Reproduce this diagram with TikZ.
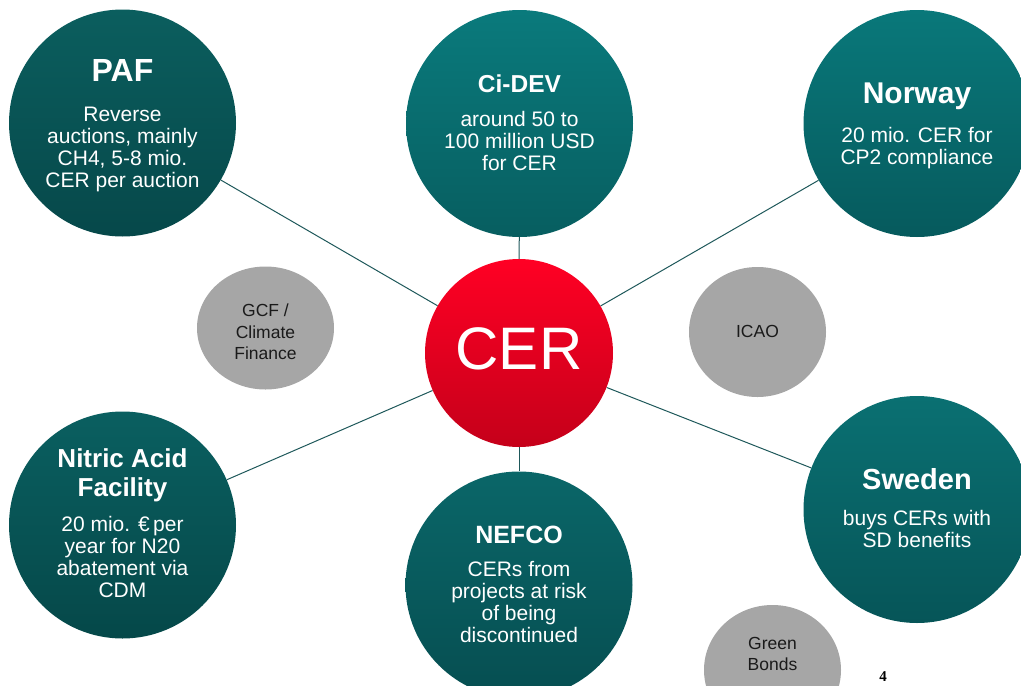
\documentclass[tikz,border=0pt]{standalone}
\usepackage{fontspec}
\setmainfont{Liberation Sans}
\newfontfamily\pagenumfont{Liberation Serif}
\usetikzlibrary{backgrounds,shapes.geometric}
\definecolor{linkc}{RGB}{30,88,90}
\definecolor{bubgray}{RGB}{166,166,166}
\definecolor{bubtext}{RGB}{26,26,26}
\definecolor{pafT}{RGB}{11,94,94}
\definecolor{pafB}{RGB}{6,72,74}
\definecolor{cidT}{RGB}{10,122,124}
\definecolor{cidB}{RGB}{7,94,96}
\definecolor{norT}{RGB}{9,120,122}
\definecolor{norB}{RGB}{6,90,93}
\definecolor{nitT}{RGB}{10,95,96}
\definecolor{nitB}{RGB}{5,72,73}
\definecolor{sweT}{RGB}{10,112,114}
\definecolor{sweB}{RGB}{6,85,88}
\definecolor{nefT}{RGB}{10,102,104}
\definecolor{nefB}{RGB}{6,78,81}
\definecolor{cerT}{RGB}{255,0,36}
\definecolor{cerB}{RGB}{197,0,26}
\begin{document}
\begin{tikzpicture}[x=1pt,y=-1pt,
  big/.style={circle,minimum size=227pt,inner sep=0pt},
  txt/.style={text=white,align=center,inner sep=0pt,font=\fontsize{21}{22}\selectfont},
  graybub/.style={ellipse,fill=bubgray,inner sep=0pt,minimum width=137pt},
  gtxt/.style={text=bubtext,align=center,inner sep=0pt,font=\fontsize{17.5}{21.5}\selectfont},
  link/.style={draw=linkc,line width=1pt}]
\useasboundingbox (0,0) rectangle (1021,686);
\clip (0,0) rectangle (1021,686);

% big circles
\node[big,top color=pafT,bottom color=pafB] (paf) at (122.5,123) {};
\node[txt] (paft) at (122.5,126) {{\fontsize{32}{32}\selectfont\bfseries PAF}\\[18pt]Reverse\\auctions, mainly\\CH4, 5-8 mio.\\CER per auction};

\node[big,top color=cidT,bottom color=cidB] (cid) at (519.5,123.5) {};
\node[txt] (cidt) at (519.5,123) {{\fontsize{24.5}{24.5}\selectfont\bfseries Ci-DEV}\\[12pt]around 50 to\\100 million USD\\for CER};

\node[big,top color=norT,bottom color=norB] (nor) at (917,123.5) {};
\node[txt] (nort) at (917,125.5) {{\fontsize{30}{30}\selectfont\bfseries Norway}\\[17pt]20 mio. CER for\\CP2 compliance};

\node[big,top color=nitT,bottom color=nitB] (nit) at (122.5,525) {};
\node[txt] (nitt) at (122.5,523) {{\fontsize{26}{26}\selectfont\bfseries Nitric Acid}\\[7pt]{\fontsize{26}{26}\selectfont\bfseries Facility}\\[13pt]20 mio. €\,per\\year for N20\\abatement via\\CDM};

\node[big,top color=sweT,bottom color=sweB] (swe) at (917,509.5) {};
\node[txt] (swet) at (917,508) {{\fontsize{29}{29}\selectfont\bfseries Sweden}\\[14pt]buys CERs with\\SD benefits};

\node[big,top color=nefT,bottom color=nefB] (nef) at (519,585) {};
\node[txt] (neft) at (519,584.5) {{\fontsize{25}{25}\selectfont\bfseries NEFCO}\\[11pt]CERs from\\projects at risk\\of being\\discontinued};

% centre
\node[circle,minimum size=188pt,inner sep=0pt,top color=cerT,bottom color=cerB] (cer) at (519,353) {};
\node[text=white,inner sep=0pt,font=\fontsize{60}{60}\selectfont] (cert) at (519,349) {CER};

% gray bubbles
\node[graybub,minimum height=123pt] (gcf) at (265.5,328) {};
\node[gtxt] (gcft) at (265.5,332) {GCF /\\Climate\\Finance};
\node[graybub,minimum height=130pt] (icao) at (757.5,332) {};
\node[gtxt] (icaot) at (757.5,331.5) {ICAO};
\node[graybub,minimum height=130pt] (gb) at (772.5,670) {};
\node[gtxt] (gbt) at (772.5,654) {Green\\Bonds};

% page number
\node[inner sep=0pt,font=\pagenumfont\bfseries\fontsize{15}{15}\selectfont] (pnum) at (883,677) {4};

% connectors
\begin{scope}[on background layer]
\draw[link] (cer) -- (paf);
\draw[link] (cer) -- (cid);
\draw[link] (cer) -- (nor);
\draw[link] (cer) -- (nit);
\draw[link] (cer) -- (swe);
\draw[link] (cer) -- (nef);
\end{scope}
\end{tikzpicture}
\end{document}
